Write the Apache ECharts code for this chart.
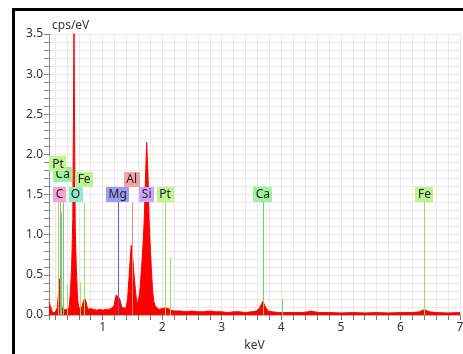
<!DOCTYPE html>
<html>
<head>
<meta charset="utf-8">
<script src="https://cdn.jsdelivr.net/npm/echarts@6/dist/echarts.min.js"></script>
<style>
  html, body { margin: 0; padding: 0; background: #fff; overflow: hidden; }
  #chart { width: 463px; height: 354px; }
</style>
</head>
<body>
<div id="chart"></div>
<script>
// spectrum (keV, cps/eV)
const specKeV = [
  0.10, 0.12, 0.14, 0.16, 0.18, 0.20, 0.22, 0.24, 0.26, 0.27, 0.28, 0.29, 0.30, 0.32, 0.34, 0.36, 0.38, 0.40,
  0.42, 0.44, 0.46, 0.48, 0.50, 0.51, 0.52, 0.53, 0.54, 0.56, 0.58, 0.60, 0.62, 0.64, 0.66, 0.68, 0.70, 0.72,
  0.74, 0.76, 0.80, 0.85, 0.90, 0.95, 1.00, 1.05, 1.10, 1.14, 1.17, 1.19, 1.21, 1.23, 1.245, 1.26, 1.28, 1.30,
  1.32, 1.35, 1.38, 1.40, 1.42, 1.44, 1.46, 1.48, 1.50, 1.53, 1.56, 1.58, 1.60, 1.62, 1.64, 1.66, 1.68, 1.70,
  1.72, 1.74, 1.76, 1.78, 1.80, 1.82, 1.84, 1.86, 1.88, 1.91, 1.95, 2.00, 2.05, 2.10, 2.15, 2.20, 2.30, 2.40,
  2.50, 2.60, 2.70, 2.80, 2.90, 3.00, 3.10, 3.20, 3.30, 3.40, 3.50, 3.58, 3.63, 3.67, 3.69, 3.71, 3.74, 3.78,
  3.85, 3.95, 4.05, 4.20, 4.35, 4.45, 4.50, 4.55, 4.65, 4.80, 5.00, 5.20, 5.40, 5.60, 5.80, 6.00, 6.20, 6.32,
  6.37, 6.40, 6.43, 6.48, 6.60, 6.80, 7.00
];
const specCps = [
  0.16, 0.17, 0.07, 0.03, 0.02, 0.03, 0.04, 0.09, 0.28, 0.42, 0.45, 0.36, 0.20, 0.09, 0.06, 0.05, 0.07, 0.09,
  0.07, 0.10, 0.30, 0.60, 1.20, 2.40, 3.60, 2.20, 1.10, 0.55, 0.20, 0.09, 0.07, 0.08, 0.12, 0.18, 0.21, 0.17,
  0.10, 0.07, 0.08, 0.07, 0.06, 0.07, 0.06, 0.07, 0.07, 0.08, 0.09, 0.11, 0.19, 0.25, 0.27, 0.25, 0.21, 0.17,
  0.10, 0.08, 0.08, 0.11, 0.20, 0.43, 0.65, 0.87, 0.76, 0.48, 0.24, 0.13, 0.12, 0.25, 0.45, 0.65, 0.90, 1.20,
  1.70, 2.15, 1.80, 1.20, 0.85, 0.55, 0.30, 0.17, 0.12, 0.09, 0.07, 0.08, 0.09, 0.08, 0.06, 0.05, 0.05, 0.04,
  0.05, 0.04, 0.04, 0.05, 0.04, 0.04, 0.03, 0.04, 0.04, 0.03, 0.04, 0.05, 0.08, 0.14, 0.17, 0.15, 0.09, 0.05,
  0.04, 0.03, 0.03, 0.03, 0.03, 0.04, 0.05, 0.04, 0.03, 0.03, 0.025, 0.03, 0.025, 0.03, 0.025, 0.03, 0.03, 0.04,
  0.06, 0.07, 0.06, 0.04, 0.03, 0.025, 0.03
];

// labelled element lines
const markerNames = ['Ca', 'Pt', 'C', 'O', 'Fe', 'Mg', 'Al', 'Si', 'Pt', 'Ca', 'Fe'];
const markerKeV = [0.33, 0.25, 0.277, 0.545, 0.69, 1.254, 1.487, 1.740, 2.048, 3.691, 6.403];
const markerLineTop = [1.5, 1.42, 1.42, 0, 1.40, 1.42, 1.40, 0, 1.42, 1.42, 1.42];
const markerLabelLevel = [1.76, 1.89, 1.51, 1.51, 1.70, 1.51, 1.70, 1.51, 1.51, 1.51, 1.51];

// unlabelled minor lines
const extraNames = ['Ca', 'Pt', 'Fe', 'Pt', 'Ca'];
const extraKeV = [0.302, 0.41, 0.615, 2.127, 4.013];
const extraLineTop = [1.28, 0.37, 0.40, 0.71, 0.20];

const elementColors = {
  C: { line: '#f07cc0', box: '#f5a3cf' },
  O: { line: '#60d8a8', box: '#90ecc6' },
  Mg: { line: '#5a5ae8', box: '#9c9cf2' },
  Al: { line: '#f08a8a', box: '#f2a3a3' },
  Si: { line: '#b47cf0', box: '#cfa6f6' },
  Pt: { line: '#9de35a', box: '#c2f395' },
  Ca: { line: '#58e058', box: '#9ff09f' },
  Fe: { line: '#9de35a', box: '#bdf292' },
};

const FONT = '"Noto Sans", "Open Sans", sans-serif';

const measureCtx = document.createElement('canvas').getContext('2d');
measureCtx.font = '12px ' + FONT;

const lineData = markerKeV
  .map((k, i) => [k, markerLineTop[i], markerNames[i]])
  .concat(extraKeV.map((k, i) => [k, extraLineTop[i], extraNames[i]]))
  .filter((d) => d[1] > 0);

const boxData = markerKeV.map((k, i) => [k, markerLabelLevel[i], markerNames[i]]);

const chart = echarts.init(document.getElementById('chart'));

chart.setOption({
  animation: false,
  graphic: [
    { type: 'rect', shape: { x: 12, y: 8, width: 3, height: 346 }, style: { fill: '#000' } },
    { type: 'rect', shape: { x: 12, y: 8, width: 451, height: 3 }, style: { fill: '#000' } },
  ],
  grid: { left: 49, right: 3, top: 34, bottom: 39, outerBoundsMode: 'none', containLabel: false },
  xAxis: [
    {
      type: 'value',
      min: 0.1,
      max: 7,
      splitNumber: 35,
      minInterval: 0.2,
      maxInterval: 0.2,
      name: 'keV',
      nameLocation: 'middle',
      nameGap: 25,
      nameTextStyle: { color: '#333', fontSize: 12, fontFamily: FONT },
      axisLine: { onZero: false, lineStyle: { color: '#666', width: 1 } },
      axisTick: { length: 5, lineStyle: { color: '#777' } },
      axisLabel: {
        color: '#333',
        fontSize: 12,
        fontFamily: FONT,
        margin: 7,
        formatter: (v) => (Math.abs(v - Math.round(v)) < 1e-6 && v >= 1 ? String(Math.round(v)) : ''),
      },
      splitLine: { show: true, lineStyle: { color: '#e9e9e9', width: 1 } },
    },
    {
      type: 'value',
      position: 'top',
      min: 0.1,
      max: 7,
      axisLine: { lineStyle: { color: '#b4b4b4', width: 2 } },
      axisTick: { show: false },
      axisLabel: { show: false },
      splitLine: { show: false },
    },
  ],
  yAxis: {
    type: 'value',
    min: 0,
    max: 3.5,
    interval: 0.1,
    name: 'cps/eV',
    nameLocation: 'end',
    nameGap: 2,
    nameTextStyle: { color: '#333', fontSize: 12, fontFamily: FONT, align: 'left', padding: [0, 0, 0, 3] },
    axisLine: { show: true, lineStyle: { color: '#888', width: 1 } },
    axisTick: { show: true, length: 5, lineStyle: { color: '#888' } },
    axisLabel: {
      color: '#333',
      fontSize: 12,
      fontFamily: FONT,
      margin: 6,
      formatter: (v) => (Math.round(v * 10) % 5 === 0 ? v.toFixed(1) : ''),
    },
    splitLine: { show: true, lineStyle: { color: '#e9e9e9', width: 1 } },
  },
  series: [
    {
      name: 'spectrum',
      type: 'line',
      data: specKeV.map((k, i) => [k, specCps[i]]),
      symbol: 'none',
      z: 2,
      lineStyle: { color: '#ff0000', width: 1 },
      areaStyle: { color: '#ff0000', opacity: 1 },
    },
    {
      name: 'lines',
      type: 'custom',
      z: 3,
      data: lineData,
      renderItem: (params, api) => {
        const el = lineData[params.dataIndex][2];
        const p0 = api.coord([api.value(0), 0]);
        const p1 = api.coord([api.value(0), api.value(1)]);
        const x = Math.round(p0[0]) + 0.5;
        return {
          type: 'line',
          shape: { x1: x, y1: p0[1], x2: x, y2: p1[1] },
          style: { stroke: elementColors[el].line, lineWidth: 1 },
        };
      },
    },
    {
      name: 'labels',
      type: 'custom',
      z: 4,
      data: boxData,
      renderItem: (params, api) => {
        const el = boxData[params.dataIndex][2];
        const p = api.coord([api.value(0), api.value(1)]);
        const w = Math.round(measureCtx.measureText(el).width) + 5;
        return {
          type: 'group',
          children: [
            {
              type: 'rect',
              shape: { x: Math.round(p[0] - w / 2), y: Math.round(p[1] - 7), width: w, height: 15 },
              style: { fill: elementColors[el].box },
            },
            {
              type: 'text',
              style: {
                text: el,
                x: p[0],
                y: p[1] + 1,
                align: 'center',
                verticalAlign: 'middle',
                fill: '#222',
                font: '12px ' + FONT,
              },
            },
          ],
        };
      },
    },
  ],
});
</script>
</body>
</html>
